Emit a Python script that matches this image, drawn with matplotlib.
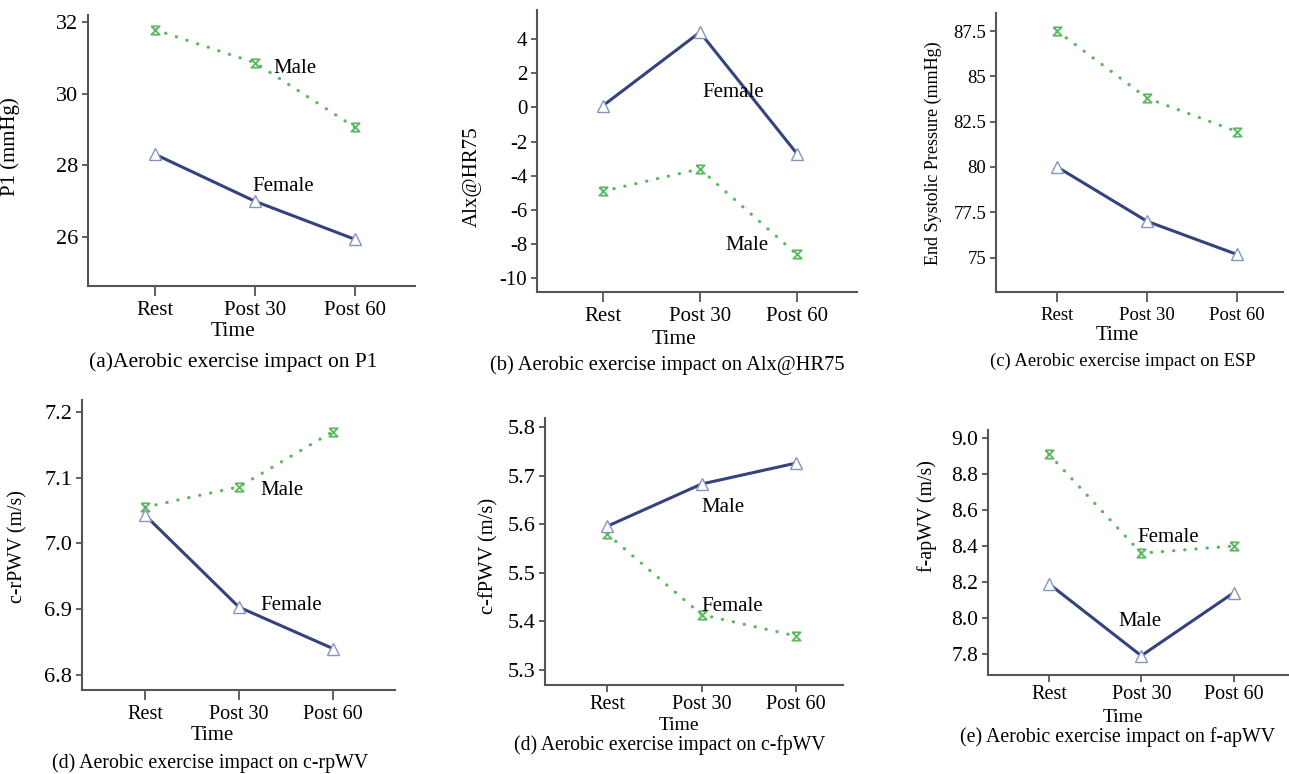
import matplotlib.pyplot as plt

plt.rcParams['font.family'] = ['Liberation Serif', 'DejaVu Serif']

times = ['Rest', 'Post 30', 'Post 60']

p1_male = [31.78, 30.86, 29.06]
p1_female = [28.31, 27.00, 25.94]
aix_female = [0.1, 4.4, -2.7]
aix_male = [-4.9, -3.6, -8.6]
esp_male = [87.5, 83.8, 81.95]
esp_female = [80.0, 77.0, 75.17]
crpwv_male = [7.055, 7.086, 7.17]
crpwv_female = [7.043, 6.903, 6.84]
cfpwv_male = [5.596, 5.683, 5.726]
cfpwv_female = [5.58, 5.414, 5.37]
fapwv_female = [8.91, 8.36, 8.40]
fapwv_male = [8.19, 7.79, 8.14]

W, H = 1289, 774
fig = plt.figure(figsize=(W / 100, H / 100), dpi=100)

BLUE = '#34427e'
GREEN = '#5cb860'
AXC = '#555555'
hourglass = [(-1, 1), (1, 1), (-1, -1), (1, -1), (-1, 1)]


def px(x, y):
    return x / W, 1 - y / H


# box = (left, top, right, bottom) in pixels
panels = [
    dict(box=(88, 15, 415, 286), xlim=(-0.67, 2.6), ylim=(24.64, 32.19),
         yticks=[26, 28, 30, 32], yfmt='{:g}', ylabel='P1 (mmHg)', ylab=(20, 147), ylfs=15,
         solid=p1_female, dotted=p1_male, tfs=(15, 16), xt=(7, 4),
         labels=[('Male', 1.4, 30.7), ('Female', 1.28, 27.42)],
         time=(233, 331), tmfs=15.5, caption='(a)Aerobic exercise impact on P1', cap=(233, 362), cfs=15.5),
    dict(box=(537, 10, 857, 292), xlim=(-0.68, 2.62), ylim=(-10.8, 5.7),
         yticks=[4, 2, 0, -2, -4, -6, -8, -10], yfmt='{:g}', ylabel='Alx@HR75', ylab=(482, 177), ylfs=15,
         solid=aix_female, dotted=aix_male, tfs=(15, 15), xt=(7, 4),
         labels=[('Female', 1.34, 0.9), ('Male', 1.48, -8.1)],
         time=(674, 339), tmfs=15.5, caption='(b) Aerobic exercise impact on Alx@HR75', cap=(667, 365), cfs=14.8),
    dict(box=(996, 13, 1283, 292), xlim=(-0.68, 2.51), ylim=(73.1, 88.5),
         yticks=[75, 77.5, 80, 82.5, 85, 87.5], yfmt='{:g}', ylabel='End Systolic Pressure (mmHg)',
         ylab=(942, 153), ylfs=13,
         solid=esp_female, dotted=esp_male, tfs=(13.5, 13.5), xt=(7, 4), labels=[],
         time=(1117, 336), tmfs=15, caption='(c) Aerobic exercise impact on ESP', cap=(1123, 361), cfs=13.4),
    dict(box=(82, 400, 395, 690), xlim=(-0.67, 2.66), ylim=(6.777, 7.218),
         yticks=[6.8, 6.9, 7.0, 7.1, 7.2], yfmt='{:.1f}', ylabel='c-rPWV (m/s)', ylab=(27, 547), ylfs=14.3,
         solid=crpwv_female, dotted=crpwv_male, tfs=(14.5, 16), xt=(7, 4),
         labels=[('Male', 1.46, 7.08), ('Female', 1.56, 6.906)],
         time=(212, 735), tmfs=15, caption='(d) Aerobic exercise impact on c-rpWV', cap=(210, 763), cfs=14.3),
    dict(box=(545, 418, 843, 685), xlim=(-0.66, 2.5), ylim=(5.269, 5.819),
         yticks=[5.3, 5.4, 5.5, 5.6, 5.7, 5.8], yfmt='{:.1f}', ylabel='c-fPWV (m/s)', ylab=(498, 556), ylfs=14.8,
         solid=cfpwv_male, dotted=cfpwv_female, tfs=(14.5, 16), xt=(5, 2),
         labels=[('Male', 1.23, 5.635), ('Female', 1.33, 5.43)],
         time=(679, 725), tmfs=14, caption='(d) Aerobic exercise impact on c-fpWV', cap=(670, 745), cfs=14.1),
    dict(box=(988, 430, 1289, 675), xlim=(-0.66, 2.6), ylim=(7.683, 9.045),
         yticks=[7.8, 8.0, 8.2, 8.4, 8.6, 8.8, 9.0], yfmt='{:.1f}', ylabel='f-apWV (m/s)', ylab=(937, 516), ylfs=14.3,
         solid=fapwv_male, dotted=fapwv_female, tfs=(14.5, 15.5), xt=(5, 2),
         labels=[('Female', 1.29, 8.45), ('Male', 0.99, 7.98)],
         time=(1123, 717), tmfs=14, caption='(e) Aerobic exercise impact on f-apWV', cap=(1118, 737), cfs=14.3),
]

for p in panels:
    l, t, r, b = p['box']
    ax = fig.add_axes([l / W, 1 - b / H, (r - l) / W, (b - t) / H])
    x = range(len(times))
    ax.plot(x, p['dotted'], color=GREEN, lw=2.3, linestyle=(0, (0.1, 3.4)),
            dash_capstyle='round', marker=hourglass, ms=6, mec=GREEN, mfc='none', mew=1.3)
    ax.plot(x, p['solid'], color=BLUE, lw=2.2, marker='^', ms=8,
            mfc='white', mec='#8496c0', mew=1.0)
    for txt, tx, ty in p['labels']:
        ax.text(tx, ty, txt, ha='center', va='center', fontsize=15)
    ax.set_xlim(*p['xlim'])
    ax.set_ylim(*p['ylim'])
    ax.set_xticks(list(x), times)
    ax.set_yticks(p['yticks'], [p['yfmt'].format(v) for v in p['yticks']])
    ax.tick_params(axis='x', labelsize=p['tfs'][0], length=p['xt'][0], width=1.3,
                   color=AXC, pad=p['xt'][1])
    ax.tick_params(axis='y', labelsize=p['tfs'][1], length=4, width=1.3, color=AXC, pad=3)
    for s in ['top', 'right']:
        ax.spines[s].set_visible(False)
    for s in ['left', 'bottom']:
        ax.spines[s].set_color(AXC)
        ax.spines[s].set_linewidth(1.5)
    ax.set_ylabel(p['ylabel'], fontsize=p['ylfs'])
    lx, ly = p['ylab']
    ax.yaxis.set_label_coords((lx - l) / (r - l), (b - ly) / (b - t))
    fig.text(*px(*p['time']), 'Time', ha='center', va='center', fontsize=p['tmfs'])
    fig.text(*px(*p['cap']), p['caption'], ha='center', va='center', fontsize=p['cfs'])

fig.savefig('out.png', dpi=100)
